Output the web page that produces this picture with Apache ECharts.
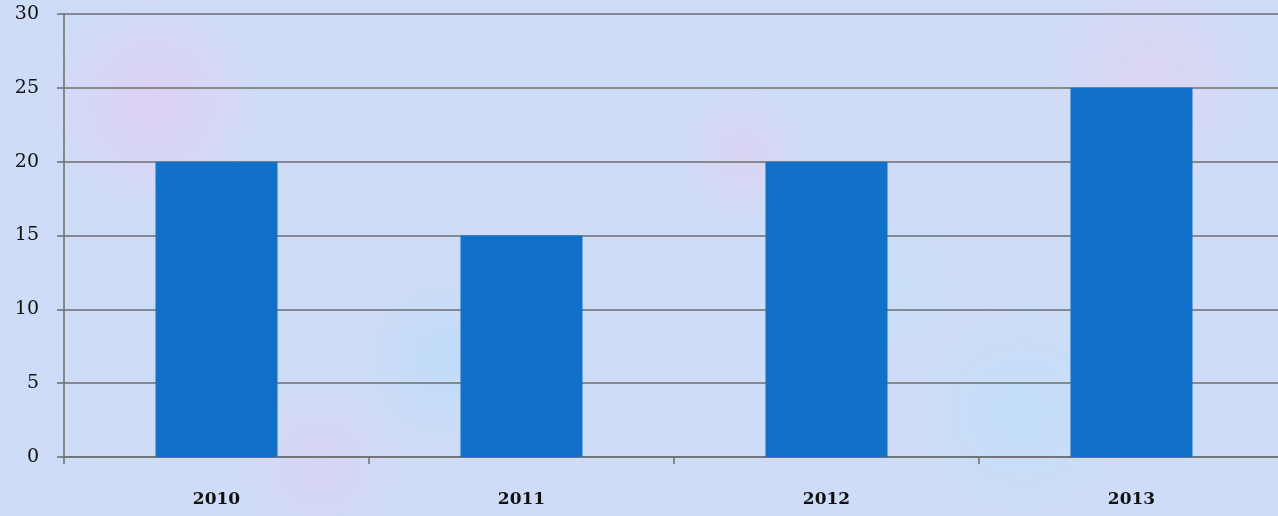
<!DOCTYPE html>
<html>
<head>
<meta charset="utf-8">
<script src="https://cdn.jsdelivr.net/npm/echarts@6/dist/echarts.min.js"></script>
<style>
html,body{margin:0;padding:0;width:1278px;height:516px;overflow:hidden;}
body{
  background-color:#cfdcf7;
  background-image:
    radial-gradient(circle at 12% 20%, rgba(235,200,240,0.55) 0, rgba(235,200,240,0) 9%),
    radial-gradient(circle at 35% 70%, rgba(180,220,250,0.6) 0, rgba(180,220,250,0) 10%),
    radial-gradient(circle at 58% 30%, rgba(230,205,240,0.5) 0, rgba(230,205,240,0) 8%),
    radial-gradient(circle at 80% 80%, rgba(185,225,250,0.55) 0, rgba(185,225,250,0) 11%),
    radial-gradient(circle at 90% 15%, rgba(235,205,235,0.45) 0, rgba(235,205,235,0) 9%),
    radial-gradient(circle at 25% 90%, rgba(225,205,245,0.5) 0, rgba(225,205,245,0) 8%),
    radial-gradient(circle at 70% 55%, rgba(195,225,250,0.5) 0, rgba(195,225,250,0) 9%);
}
#chart{width:1296px;height:516px;}
</style>
</head>
<body>
<div id="chart"></div>
<script>
const categories = ['2010', '2011', '2012', '2013'];
const values = [20, 15, 20, 25];
const yTicks = [0, 5, 10, 15, 20, 25, 30];

const chart = echarts.init(document.getElementById('chart'), null, {renderer: 'canvas'});
const font = 'DejaVu Serif';
chart.setOption({
  backgroundColor: 'transparent',
  animation: false,
  grid: {left: 64, right: 12, top: 14, bottom: 59, containLabel: false},
  xAxis: {
    type: 'category',
    data: categories,
    boundaryGap: true,
    axisLine: {show: true, lineStyle: {color: '#6e6e6e', width: 1.5}},
    axisTick: {show: true, length: 7, alignWithLabel: false, lineStyle: {color: '#6e6e6e', width: 1.5}},
    axisLabel: {color: '#111', fontFamily: font, fontSize: 17, fontWeight: 'bold', margin: 34}
  },
  yAxis: {
    type: 'value',
    min: yTicks[0],
    max: yTicks[yTicks.length - 1],
    interval: 5,
    axisLine: {show: true, lineStyle: {color: '#6e6e6e', width: 1.5}},
    axisTick: {show: true, length: 7, lineStyle: {color: '#6e6e6e', width: 1.5}},
    splitLine: {show: true, lineStyle: {color: '#6e6e6e', width: 1.5}},
    axisLabel: {color: '#111', fontFamily: font, fontSize: 19, margin: 25}
  },
  series: [{
    type: 'bar',
    data: values,
    barWidth: '40%',
    itemStyle: {color: '#1170c7'}
  }]
});
</script>
</body>
</html>
